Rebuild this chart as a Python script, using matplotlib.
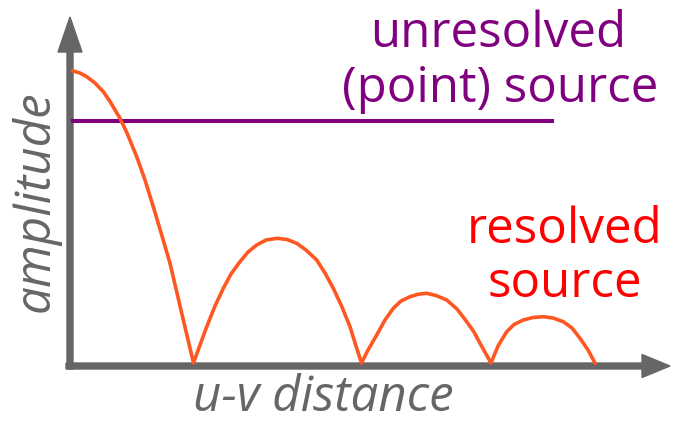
import matplotlib.pyplot as plt

plt.rcParams['font.family'] = ['Open Sans', 'DejaVu Sans']

# curve (u-v distance, amplitude), arbitrary units
uv = [3, 10, 16.7, 25, 33.3, 40, 50, 57, 66.7, 75, 83.3, 92, 100, 107, 113.3, 119, 123.5,
      130, 136.7, 145, 153.3, 161, 170, 178, 186.7, 196, 207.3, 217, 226.7, 236, 246.7,
      255, 263.3, 272, 280, 286, 291.5,
      298, 306.7, 315, 323.3, 331, 340, 348, 356.7, 366, 376.7, 387, 396.7, 404, 410,
      416, 421,
      428, 436.7, 444, 453.3, 463, 473.3, 483, 493.3, 502, 510, 518, 525]
amp = [292, 290, 286.3, 280, 271.3, 261.5, 244.7, 230, 206.3, 183, 156.3, 127, 99.7, 70,
       43, 19, 0,
       18, 36.3, 57, 74.7, 89, 101.3, 111, 118, 123, 124.7, 123.5, 119.7, 113, 103,
       90, 74.7, 56, 36.3, 17, 0,
       13, 28, 43, 54.7, 62, 66.3, 68.7, 69.7, 67.5, 63, 54, 41.3, 31, 19.7,
       9, 0,
       17, 31.3, 38.5, 43, 45.5, 46.3, 45, 41.3, 35, 24.7, 13, 0]

# point source: flat amplitude
point_uv = [3, 482]
point_amp = [242, 242]

axis_col = '#666666'
curve_col = '#FF5722'
purple = '#800080'
red = '#FF0000'

fig = plt.figure(figsize=(6.73, 4.21), dpi=100)
ax = fig.add_axes([0, 0, 1, 1])
ax.set_xlim(-70, 603)
ax.set_ylim(-58, 363)
ax.axis('off')

# axes with arrow heads
ax.arrow(0, -6, 0, 352, width=6, head_width=24, head_length=35,
         length_includes_head=True, color=axis_col, zorder=1)
ax.arrow(-4, -3, 604, 0, width=6, head_width=23, head_length=28,
         length_includes_head=True, color=axis_col, zorder=1)

ax.plot(uv, amp, color=curve_col, lw=2.6, solid_joinstyle='round', zorder=3)
ax.plot(point_uv, point_amp, color=purple, lw=2.9, zorder=2)

fs = 35.5
ax.text(428, 316, 'unresolved', color=purple, fontsize=fs, ha='center', va='baseline')
ax.text(430, 261, '(point) source', color=purple, fontsize=fs, ha='center', va='baseline')
ax.text(495, 120, 'resolved', color=red, fontsize=fs, ha='center', va='baseline')
ax.text(495, 66, 'source', color=red, fontsize=fs, ha='center', va='baseline')
ax.text(253, -48, 'u-v distance', color=axis_col, fontsize=fs, style='italic',
        ha='center', va='baseline')
ax.text(-34, 162, 'amplitude', color=axis_col, fontsize=fs, style='italic',
        rotation=90, ha='center', va='center')

plt.savefig('out.png', dpi=100)
